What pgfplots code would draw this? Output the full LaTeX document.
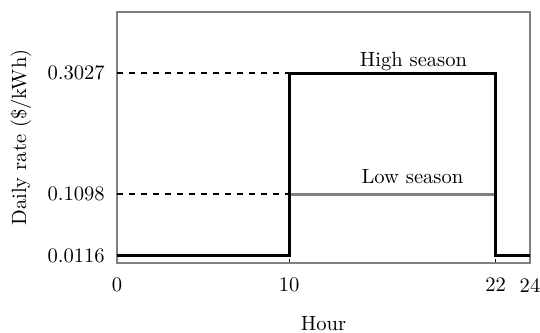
\documentclass[border=0pt]{standalone}
\usepackage{fontspec}
\usepackage{pgfplots}
\pgfplotsset{compat=1.18}
\begin{document}
\fontsize{10.3}{12.4}\selectfont
\begin{tikzpicture}[font=\fontsize{10.3}{12.4}\selectfont]
\begin{axis}[
  scale only axis,
  width=206.5pt, height=125.5pt,
  xmin=0, xmax=24, ymin=0, ymax=0.4,
  axis line style={gray, line width=0.6pt},
  xtick={0,10,22,24},
  xticklabels={0,10,22,24},
  ytick={0.0116,0.1098,0.3027},
  yticklabels={0.0116,0.1098,0.3027},
  /pgf/number format/assume math mode=true,
  xtick pos=bottom, ytick pos=left,
  tick align=inside,
  major tick length=2pt,
  tick style={black, line width=0.5pt},
  tick label style={font=\fontsize{10.3}{12.4}\selectfont},
  label style={font=\fontsize{10.3}{12.4}\selectfont},
  xticklabel style={yshift=-4pt},
  yticklabel style={xshift=-2.5pt},
  xlabel={Hour}, ylabel={Daily rate (\$/kWh)},
  xlabel style={yshift=-5pt},
  ylabel style={yshift=1pt},
  clip=false,
]
\addplot[black, dashed, line width=0.6pt] coordinates {(0,0.3027) (10,0.3027)};
\addplot[black, dashed, line width=0.6pt] coordinates {(0,0.1098) (10,0.1098)};
\addplot[gray, line width=1.5pt] coordinates {(10,0.1098) (22,0.1098)};
\addplot[black, line width=1.5pt] coordinates {(0,0.0116) (10,0.0116) (10,0.3027) (22,0.3027) (22,0.0116) (24,0.0116)};
\node[anchor=base, yshift=3.5pt, inner sep=0pt] at (axis cs:17.23,0.3027) {High season};
\node[anchor=base, yshift=5.5pt, inner sep=0pt] at (axis cs:17.17,0.1098) {Low season};
\coordinate (SW) at (rel axis cs:0,0);
\coordinate (NE) at (rel axis cs:1,1);
\end{axis}
\pgfresetboundingbox
\useasboundingbox ([xshift=-58.5pt,yshift=-35pt]SW) rectangle ([xshift=5pt,yshift=6pt]NE);
\end{tikzpicture}
\end{document}
